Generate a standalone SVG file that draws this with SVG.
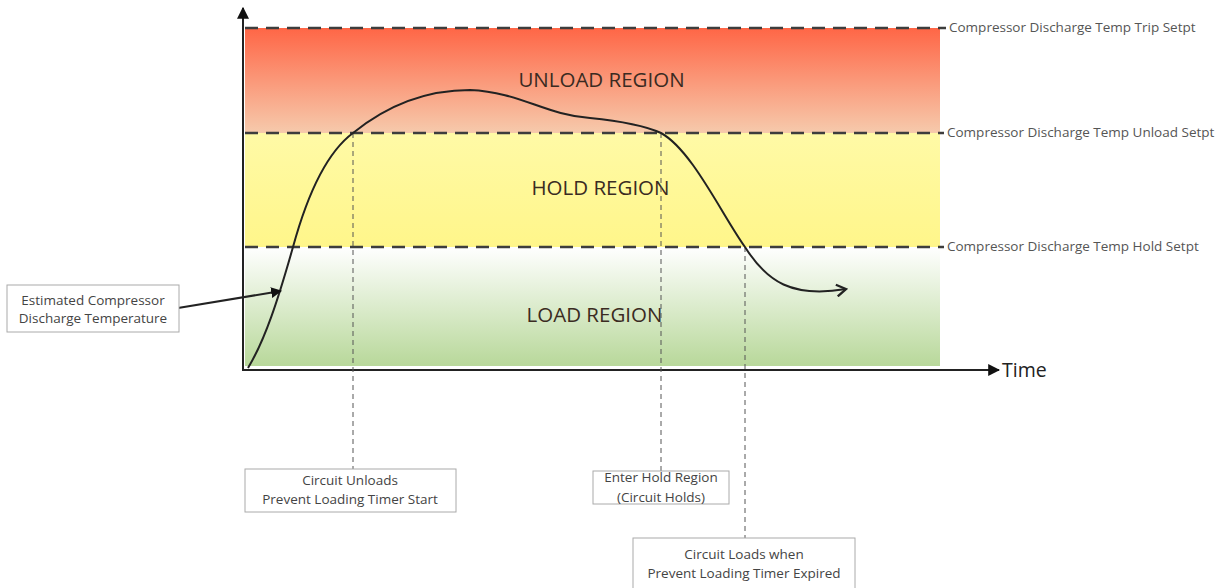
<svg xmlns="http://www.w3.org/2000/svg" width="1222" height="588" viewBox="0 0 1222 588">
<defs>
<linearGradient id="gRed" x1="0" y1="0" x2="0" y2="1"><stop offset="0" stop-color="#ff6646"/><stop offset="1" stop-color="#f6caac"/></linearGradient>
<linearGradient id="gYel" x1="0" y1="0" x2="0" y2="1"><stop offset="0" stop-color="#fffaa6"/><stop offset="1" stop-color="#fff68a"/></linearGradient>
<linearGradient id="gGrn" x1="0" y1="0" x2="0" y2="1"><stop offset="0" stop-color="#ffffff"/><stop offset="1" stop-color="#b8d89a"/></linearGradient>
<marker id="ah" viewBox="0 0 10 10" refX="9" refY="5" markerWidth="11" markerHeight="11" orient="auto" markerUnits="userSpaceOnUse"><path d="M0,0 L10,5 L0,10 z" fill="#111"/></marker>
<marker id="ah2" viewBox="0 0 10 10" refX="9" refY="5" markerWidth="12" markerHeight="12" orient="auto" markerUnits="userSpaceOnUse"><path d="M0,0 L10,5 L0,10 z" fill="#111"/></marker>
<marker id="open" viewBox="0 0 12 12" refX="10" refY="6" markerWidth="14" markerHeight="14" orient="auto" markerUnits="userSpaceOnUse"><path d="M2,1 L10,6 L2,11" fill="none" stroke="#222" stroke-width="2"/></marker>
</defs>
<style>
.set{stroke:#3d3d3d;stroke-width:2.5;stroke-dasharray:13 8;fill:none}
.vd{stroke:#555;stroke-width:1;stroke-dasharray:5 4;fill:none}
.reg{font-family:"Open Sans","Liberation Sans",sans-serif;font-size:20.5px;fill:#3a2b22;text-anchor:middle}
.sp{font-family:"Open Sans","Liberation Sans",sans-serif;font-size:13.5px;fill:#555}
.bx{fill:#fff;stroke:#aaa;stroke-width:1}
.bt{font-family:"Open Sans","Liberation Sans",sans-serif;font-size:13.5px;fill:#444;text-anchor:middle}
</style>
<rect width="1222" height="588" fill="#fff"/>
<g id="regions">
<rect x="245" y="28" width="695" height="105" fill="url(#gRed)"/>
<rect x="245" y="133" width="695" height="114" fill="url(#gYel)"/>
<rect x="245" y="247" width="695" height="119" fill="url(#gGrn)"/>
<text class="reg" x="601.5" y="87">UNLOAD REGION</text>
<text class="reg" x="600.5" y="195">HOLD REGION</text>
<text class="reg" x="594.5" y="322">LOAD REGION</text>
</g>
<g id="setpoints">
<line class="set" x1="245" y1="28" x2="946" y2="28"/>
<line class="set" x1="245" y1="133" x2="944" y2="133"/>
<line class="set" x1="245" y1="247" x2="944" y2="247"/>
<text class="sp" x="949" y="32">Compressor Discharge Temp Trip Setpt</text>
<text class="sp" x="947" y="137">Compressor Discharge Temp Unload Setpt</text>
<text class="sp" x="947" y="251">Compressor Discharge Temp Hold Setpt</text>
</g>
<g id="axes">
<line x1="243" y1="371" x2="243" y2="8" stroke="#222" stroke-width="2" marker-end="url(#ah2)"/>
<line x1="242" y1="370" x2="999" y2="370" stroke="#222" stroke-width="2" marker-end="url(#ah2)"/>
<text x="1002" y="377" font-family="Open Sans, Liberation Sans, sans-serif" font-size="19.5" fill="#222">Time</text>
</g>
<g id="connectors">
<line class="vd" x1="353" y1="133" x2="353" y2="469"/>
<line class="vd" x1="661" y1="133" x2="661" y2="471"/>
<line class="vd" x1="745" y1="247" x2="745" y2="538"/>
<path d="M248,368 C265,340 278,300 293,247 C310,185 330,150 353,133 C390,103 430,90 470,90 C520,92 545,115 590,118 C630,122 650,128 661,133 C692,150 722,215 745,247 C767,282 792,298 846,289" fill="none" stroke="#222" stroke-width="2" marker-end="url(#open)"/>
<line x1="178" y1="308" x2="281" y2="291" stroke="#222" stroke-width="2" marker-end="url(#ah)"/>
</g>
<g id="estimated">
<rect class="bx" x="7" y="285" width="172" height="47"/>
<text class="bt" x="93" y="305">Estimated Compressor</text>
<text class="bt" x="93" y="323">Discharge Temperature</text>
</g>
<g id="unloads">
<rect class="bx" x="245" y="469" width="211" height="43"/>
<text class="bt" x="350" y="485">Circuit Unloads</text>
<text class="bt" x="350" y="504">Prevent Loading Timer Start</text>
</g>
<g id="hold">
<rect class="bx" x="593" y="471" width="136" height="33"/>
<text class="bt" x="661" y="482">Enter Hold Region</text>
<text class="bt" x="661" y="502">(Circuit Holds)</text>
</g>
<g id="loads">
<rect class="bx" x="633" y="538" width="222" height="52"/>
<text class="bt" x="744" y="559">Circuit Loads when</text>
<text class="bt" x="744" y="578">Prevent Loading Timer Expired</text>
</g>
</svg>
